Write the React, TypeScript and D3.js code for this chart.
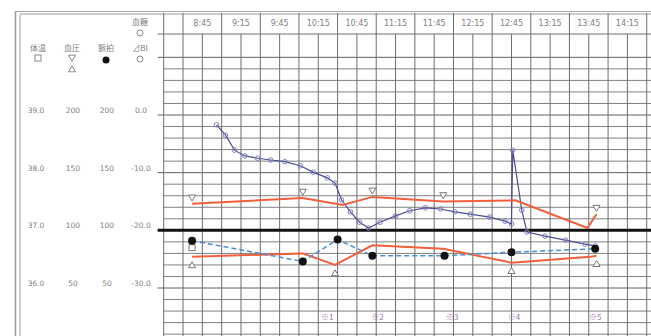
import React from 'react';
import * as d3 from 'd3';

// ---- data ----
const timeLabels = ["8:45","9:15","9:45","10:15","10:45","11:15","11:45","12:15","12:45","13:15","13:45","14:15"];

const tempTicks = [39, 38, 37, 36];
const bpTicks = [200, 150, 100, 50];
const pulseTicks = [200, 150, 100, 50];
const biTicks = [0, -10, -20, -30];

const sysTimes = ["8:37","10:03","10:34","10:57","11:52","12:48","13:44","13:51"];
const sysValues = [123, 128, 122, 129, 125, 126, 102, 114];
const sysMarkIdx = [0, 1, 3, 4, 7];

const diaTimes = ["8:37","10:03","10:28","10:57","11:52","12:45","13:46","13:51"];
const diaValues = [77, 80, 70, 87, 84, 72, 77, 78];
const diaMarkIdx = [0, 2, 5, 7];

const pulseTimes = ["8:37","10:03","10:30","10:57","11:53","12:45","13:50"];
const pulseValues = [91, 73, 92, 78, 78, 81, 84];

const tempTimes = ["8:37"];
const tempValues = [36.7];

const biTimes = ["8:56","9:03","9:10","9:18","9:28","9:38","9:49","10:01","10:11","10:22","10:28","10:33","10:40","10:47","10:54","11:03","11:15","11:26","11:38","11:50","12:01","12:13","12:28","12:40","12:45","12:46","12:53","12:57","13:11","13:27","13:42","13:50"];
const biValues = [-1.7,-3.5,-6.1,-7.1,-7.5,-7.8,-8.1,-8.8,-9.9,-10.9,-11.8,-14.7,-16.8,-18.6,-19.6,-18.6,-17.5,-16.6,-16.1,-16.3,-16.8,-17.2,-17.7,-18.4,-18.9,-6.1,-16.5,-20.3,-21.0,-21.7,-22.4,-22.7];

const noteLabels = ["※1","※2","※3","※4","※5"];
const noteTimes = ["10:22","11:01","11:59","12:47","13:50"];

// ---- helpers ----
const toMin = (s: string) => { const [h, m] = s.split(':').map(Number); return h * 60 + m; };

const W = 651, H = 336;
const x = d3.scaleLinear().domain([toMin("8:15"), toMin("14:15")]).range([163.7, 627.4]);
const yTemp = d3.scaleLinear().domain([36, 39]).range([288, 115]);
const yBP = d3.scaleLinear().domain([50, 200]).range([288, 115]);
const yBI = d3.scaleLinear().domain([-30, 0]).range([288, 115]);

const gridLeft = x(toMin("8:15"));
const headerTop = 13, headerBottom = 34;
const grey = "#6e6e6e";
const txt = "#808080";
const font = "'DejaVu Sans', 'Noto Sans CJK JP', sans-serif";
const jfont = "'Noto Sans CJK JP', sans-serif";

export default function App() {
  const hLines = d3.range(0, 25).map(i => ({ y: yTemp(40 - i * 0.2), major: i % 5 === 0 })).filter(d => d.y <= H);
  const vBody = d3.range(toMin("8:30"), toMin("14:31"), 15).map(t => x(t));
  const vHead = d3.range(toMin("8:30"), toMin("14:31"), 30).map(t => x(t));

  const sysLine = d3.line<number>().x((_, i) => x(toMin(sysTimes[i]))).y(v => yBP(v));
  const diaLine = d3.line<number>().x((_, i) => x(toMin(diaTimes[i]))).y(v => yBP(v));
  const pulseLine = d3.line<number>().x((_, i) => x(toMin(pulseTimes[i]))).y(v => yBP(v));
  const biLine = d3.line<number>().x((_, i) => x(toMin(biTimes[i]))).y(v => yBI(v));

  const tri = (cx: number, cy: number, down: boolean, s = 4) =>
    down ? `M${cx - s},${cy - s * 0.8}L${cx + s},${cy - s * 0.8}L${cx},${cy + s * 0.9}Z`
         : `M${cx - s},${cy + s * 0.8}L${cx + s},${cy + s * 0.8}L${cx},${cy - s * 0.9}Z`;

  return (
    <svg width={W} height={H} style={{ position: 'absolute', left: 0, top: 0, background: '#fff' }}>
      {/* outer frame */}
      <line x1={15.5} y1={11} x2={15.5} y2={H} stroke="#999" strokeWidth={1.5} />
      <line x1={20} y1={15} x2={20} y2={H} stroke="#999" strokeWidth={1} />
      <line x1={15} y1={11.5} x2={W} y2={11.5} stroke="#aaa" strokeWidth={1} />
      <line x1={20} y1={headerTop + 1} x2={W} y2={headerTop + 1} stroke="#999" strokeWidth={1} />

      {/* header */}
      <line x1={gridLeft} y1={headerBottom} x2={W} y2={headerBottom} stroke={grey} strokeWidth={1} />
      {vHead.map((vx, i) => (
        <line key={'vh' + i} x1={vx} y1={headerTop} x2={vx} y2={headerBottom} stroke={grey} strokeWidth={1} />
      ))}
      {timeLabels.map((t, i) => (
        <text key={'tl' + i} x={x(toMin(t))} y={26} fontSize={8} fill={txt} textAnchor="middle" fontFamily={font}>{t}</text>
      ))}

      {/* grid body */}
      {hLines.map((d, i) => (
        <line key={'h' + i} x1={d.major ? gridLeft - 6 : gridLeft} y1={d.y} x2={W} y2={d.y}
          stroke={d.major ? "#5e5e5e" : "#808080"} strokeWidth={1} />
      ))}
      {vBody.map((vx, i) => (
        <line key={'vb' + i} x1={vx} y1={headerBottom} x2={vx} y2={H} stroke={grey} strokeWidth={1} />
      ))}
      <line x1={gridLeft} y1={headerTop} x2={gridLeft} y2={H} stroke={grey} strokeWidth={1} />
      <line x1={gridLeft - 6} y1={headerBottom} x2={gridLeft} y2={headerBottom} stroke={grey} />
      <line x1={gridLeft - 6} y1={yTemp(37)} x2={W} y2={yTemp(37)} stroke="#111" strokeWidth={3} />

      {/* left legend */}
      <text x={38} y={51} fontSize={8} fill={txt} textAnchor="middle" fontFamily={jfont}>体温</text>
      <rect x={35} y={55} width={6} height={6} fill="none" stroke="#888" />
      <text x={72} y={51} fontSize={8} fill={txt} textAnchor="middle" fontFamily={jfont}>血圧</text>
      <path d={tri(72, 58, true, 3.5)} fill="none" stroke="#888" />
      <path d={tri(72, 69, false, 3.5)} fill="none" stroke="#888" />
      <text x={106} y={51} fontSize={8} fill={txt} textAnchor="middle" fontFamily={jfont}>脈拍</text>
      <circle cx={106} cy={60} r={3.5} fill="#111" />
      <text x={140} y={25} fontSize={8} fill={txt} textAnchor="middle" fontFamily={jfont}>血糖</text>
      <circle cx={140} cy={33} r={3} fill="none" stroke="#888" />
      <text x={140} y={51} fontSize={8} fill={txt} textAnchor="middle" fontFamily={jfont}>⊿BI</text>
      <circle cx={140} cy={59} r={3} fill="none" stroke="#888" />

      {/* left tick labels */}
      {tempTicks.map((v, i) => (
        <g key={'lt' + i}>
          <text x={36} y={yTemp(v) - 2} fontSize={7.5} fill={txt} textAnchor="middle" fontFamily={font}>{v.toFixed(1)}</text>
          <text x={73} y={yBP(bpTicks[i]) - 2} fontSize={7.5} fill={txt} textAnchor="middle" fontFamily={font}>{bpTicks[i]}</text>
          <text x={107} y={yBP(pulseTicks[i]) - 2} fontSize={7.5} fill={txt} textAnchor="middle" fontFamily={font}>{pulseTicks[i]}</text>
          <text x={141} y={yBI(biTicks[i]) - 2} fontSize={7.5} fill={txt} textAnchor="middle" fontFamily={font}>{biTicks[i].toFixed(1)}</text>
        </g>
      ))}

      {/* ⊿BI series */}
      <path d={biLine(biValues) || ''} fill="none" stroke="#4b4b96" strokeWidth={1.2} />
      {biValues.map((v, i) => (
        <circle key={'bi' + i} cx={x(toMin(biTimes[i]))} cy={yBI(v)} r={2.3} fill="none" stroke="#8080b8" strokeWidth={1} />
      ))}

      {/* blood pressure */}
      <path d={sysLine(sysValues) || ''} fill="none" stroke="#f0603c" strokeWidth={2} />
      <path d={diaLine(diaValues) || ''} fill="none" stroke="#f0603c" strokeWidth={2} />
      {sysMarkIdx.map(i => (
        <path key={'sm' + i} d={tri(x(toMin(sysTimes[i])), yBP(sysValues[i]) - 6, true, 3.5)} fill="#fff" stroke="#777" />
      ))}
      {diaMarkIdx.map(i => (
        <path key={'dm' + i} d={tri(x(toMin(diaTimes[i])), yBP(diaValues[i]) + 8, false, 3.5)} fill="#fff" stroke="#777" />
      ))}

      {/* temperature */}
      {tempValues.map((v, i) => (
        <rect key={'tp' + i} x={x(toMin(tempTimes[i])) - 3} y={yTemp(v) - 3} width={6} height={6} fill="#fff" stroke="#777" />
      ))}

      {/* pulse */}
      <path d={pulseLine(pulseValues) || ''} fill="none" stroke="#4a8ed4" strokeWidth={1.5} strokeDasharray="5,3" />
      {pulseValues.map((v, i) => (
        <circle key={'p' + i} cx={x(toMin(pulseTimes[i]))} cy={yBP(v)} r={4} fill="#111" />
      ))}

      {/* notes */}
      {noteLabels.map((n, i) => (
        <text key={'n' + i} x={x(toMin(noteTimes[i]))} y={320} fontSize={8} fill="#a070a8" textAnchor="middle" fontFamily={jfont}>{n}</text>
      ))}
    </svg>
  );
}
